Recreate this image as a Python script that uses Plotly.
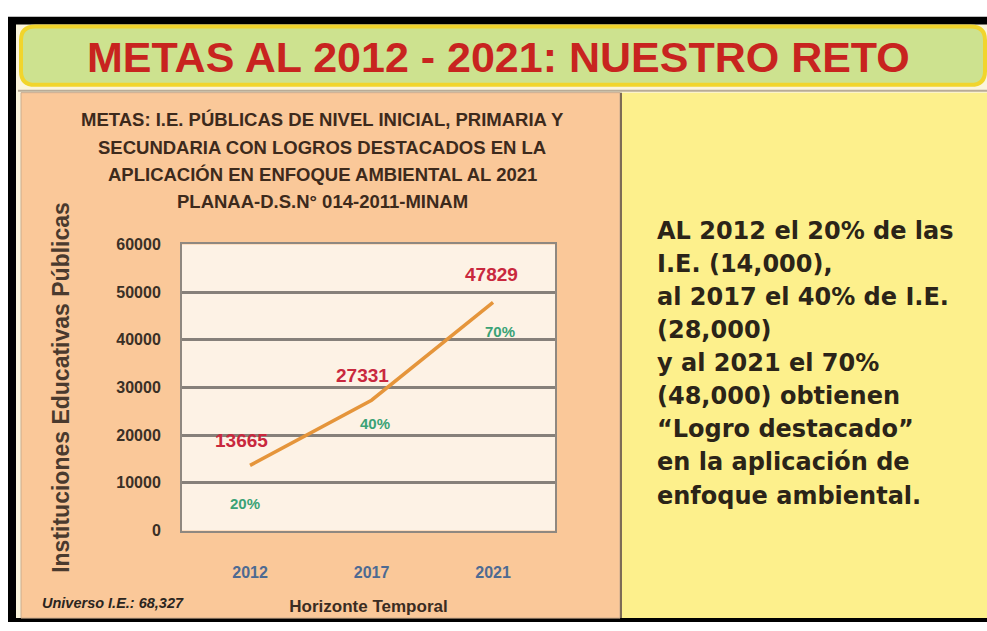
import plotly.graph_objects as go

# ---------------- data ----------------
YEARS = ["2012", "2017", "2021"]
VALUES = [13665, 27331, 47829]
PCT_LABELS = ["20%", "40%", "70%"]
Y_TICKS = [0, 10000, 20000, 30000, 40000, 50000, 60000]

BANNER_TITLE = "METAS AL 2012 - 2021: NUESTRO RETO"
CHART_TITLE_LINES = [
    "METAS: I.E. PÚBLICAS DE NIVEL INICIAL, PRIMARIA Y",
    "SECUNDARIA CON LOGROS DESTACADOS EN LA",
    "APLICACIÓN EN ENFOQUE AMBIENTAL AL 2021",
    "PLANAA-D.S.N° 014-2011-MINAM",
]
Y_TITLE = "Instituciones Educativas Públicas"
X_TITLE = "Horizonte Temporal"
UNIVERSE_NOTE = "Universo I.E.: 68,327"
SIDE_TEXT_LINES = [
    "AL 2012 el 20% de las",
    "I.E. (14,000),",
    "al 2017 el 40% de I.E.",
    "(28,000)",
    "y al 2021 el 70%",
    "(48,000) obtienen",
    "“Logro destacado”",
    "en la aplicación de",
    "enfoque ambiental.",
]

# label placement offsets (pixels, style only)
VALUE_LABEL_SHIFT = [(-9, 25), (-9, 25), (-2, 28)]
PCT_LABEL_SHIFT = [(-5, -38), (3, -23), (7, -29)]

# ---------------- layout helpers ----------------
W, H = 987, 631


def px(x):
    return x / W


def py(y):
    return 1 - y / H


PLOT_L, PLOT_R, PLOT_T, PLOT_B = 182, 555, 243, 537
SANS = "Liberation Sans, Arial"

fig = go.Figure()
fig.add_trace(go.Scatter(
    x=YEARS, y=VALUES, mode="lines",
    line=dict(color="#e5953b", width=3.5),
    hoverinfo="x+y", showlegend=False,
))

shapes = []
# black frame
shapes.append(dict(type="rect", xref="paper", yref="paper", x0=px(8), x1=px(W), y0=py(H), y1=py(9),
                   fillcolor="#000000", line=dict(width=0), layer="below"))
# inner light background
shapes.append(dict(type="rect", xref="paper", yref="paper", x0=px(16), x1=px(W), y0=py(627), y1=py(17),
                   fillcolor="#fbf5dc", line=dict(width=0), layer="below"))


def rounded_rect(x0, y0, x1, y1, r):
    X0, X1 = px(x0), px(x1)
    Y0, Y1 = py(y0), py(y1)
    rx, ry = r / W, r / H
    return (f"M {X0+rx},{Y0} L {X1-rx},{Y0} Q {X1},{Y0} {X1},{Y0-ry} "
            f"L {X1},{Y1+ry} Q {X1},{Y1} {X1-rx},{Y1} L {X0+rx},{Y1} "
            f"Q {X0},{Y1} {X0},{Y1+ry} L {X0},{Y0-ry} Q {X0},{Y0} {X0+rx},{Y0} Z")


# banner
shapes.append(dict(type="path", xref="paper", yref="paper", path=rounded_rect(21, 19, 985, 79, 14),
                   fillcolor="#cde28f", line=dict(color="#f1d52c", width=4), layer="below"))
# separator line
shapes.append(dict(type="line", xref="paper", yref="paper", x0=px(18), x1=px(W), y0=py(85), y1=py(85),
                   line=dict(color="#b8ab96", width=2), layer="below"))
# left panel
shapes.append(dict(type="rect", xref="paper", yref="paper", x0=px(21), x1=px(620), y0=py(627), y1=py(87),
                   fillcolor="#fac899", line=dict(color="#c9ab8e", width=1), layer="below"))
# right panel
shapes.append(dict(type="rect", xref="paper", yref="paper", x0=px(621), x1=px(W), y0=py(627), y1=py(87),
                   fillcolor="#fdf08c", line=dict(width=0), layer="below"))
# divider
shapes.append(dict(type="line", xref="paper", yref="paper", x0=px(621), x1=px(621), y0=py(627), y1=py(87),
                   line=dict(color="#7d6b55", width=2), layer="below"))
# plot-area background (drawn over panels, under gridlines)
shapes.append(dict(type="rect", xref="x domain", yref="y domain", x0=0, x1=1, y0=0, y1=1,
                   fillcolor="#fdf2e5", line=dict(width=0), layer="below"))

annotations = []
annotations.append(dict(text=BANNER_TITLE, xref="paper", yref="paper",
                        x=px(498), y=py(50), showarrow=False, xanchor="center", yanchor="middle",
                        font=dict(family=SANS, size=43, color="#c8241f", weight="bold")))
for i, line in enumerate(CHART_TITLE_LINES):
    annotations.append(dict(text=line, xref="paper", yref="paper",
                            x=px(322), y=py(115 + 28 * i), showarrow=False,
                            xanchor="center", yanchor="middle",
                            font=dict(family=SANS, size=18.5, color="#3d2a1c", weight="bold")))
for i, line in enumerate(SIDE_TEXT_LINES):
    annotations.append(dict(text=line, xref="paper", yref="paper",
                            x=px(655), y=py(229 + 34 * i), showarrow=False,
                            xanchor="left", yanchor="middle",
                            font=dict(family="DejaVu Sans, Verdana", size=24, color="#2b2418",
                                      weight="bold")))
# value labels (category index positions)
for i, v in enumerate(VALUES):
    dx, dy = VALUE_LABEL_SHIFT[i]
    annotations.append(dict(text=str(v), x=i, y=v, xref="x", yref="y", showarrow=False,
                            xshift=dx, yshift=dy,
                            font=dict(family=SANS, size=19, color="#c9283e", weight="bold")))
for i, (v, p) in enumerate(zip(VALUES, PCT_LABELS)):
    dx, dy = PCT_LABEL_SHIFT[i]
    annotations.append(dict(text=p, x=i, y=v, xref="x", yref="y", showarrow=False,
                            xshift=dx, yshift=dy,
                            font=dict(family=SANS, size=15, color="#3aa276", weight="bold")))
annotations.append(dict(text=f"<i>{UNIVERSE_NOTE}</i>", xref="paper", yref="paper",
                        x=px(40), y=py(611), showarrow=False, xanchor="left", yanchor="middle",
                        font=dict(family=SANS, size=14.5, color="#2a2520", weight="bold")))

fig.update_layout(
    width=W, height=H,
    margin=dict(l=0, r=0, t=0, b=0),
    paper_bgcolor="#ffffff",
    plot_bgcolor="#fdf2e5",
    shapes=shapes,
    annotations=annotations,
    showlegend=False,
    xaxis=dict(
        domain=[px(PLOT_L), px(PLOT_R)],
        type="category", range=[-0.56, 2.51],
        showgrid=False, zeroline=False,
        showline=True, mirror=True, linecolor="#8f8880", linewidth=2,
        ticks="", ticklabelstandoff=26,
        tickfont=dict(family=SANS, size=16, color="#4d6a92", weight="bold"),
        title=dict(text=X_TITLE, standoff=20,
                   font=dict(family=SANS, size=17, color="#3a2c22", weight="bold")),
        fixedrange=True,
    ),
    yaxis=dict(
        domain=[py(PLOT_B), py(PLOT_T)],
        range=[0, 60000], tickvals=Y_TICKS, tickformat="d",
        showgrid=True, gridcolor="#86807a", gridwidth=2.5,
        zeroline=False,
        showline=True, mirror=True, linecolor="#8f8880", linewidth=2,
        ticks="", ticklabelstandoff=16,
        tickfont=dict(family=SANS, size=16, color="#3a3026", weight="bold"),
        title=dict(text=Y_TITLE, standoff=40,
                   font=dict(family=SANS, size=23, color="#4a3a2e", weight="bold")),
        fixedrange=True,
    ),
)

fig.write_html("out.html")
